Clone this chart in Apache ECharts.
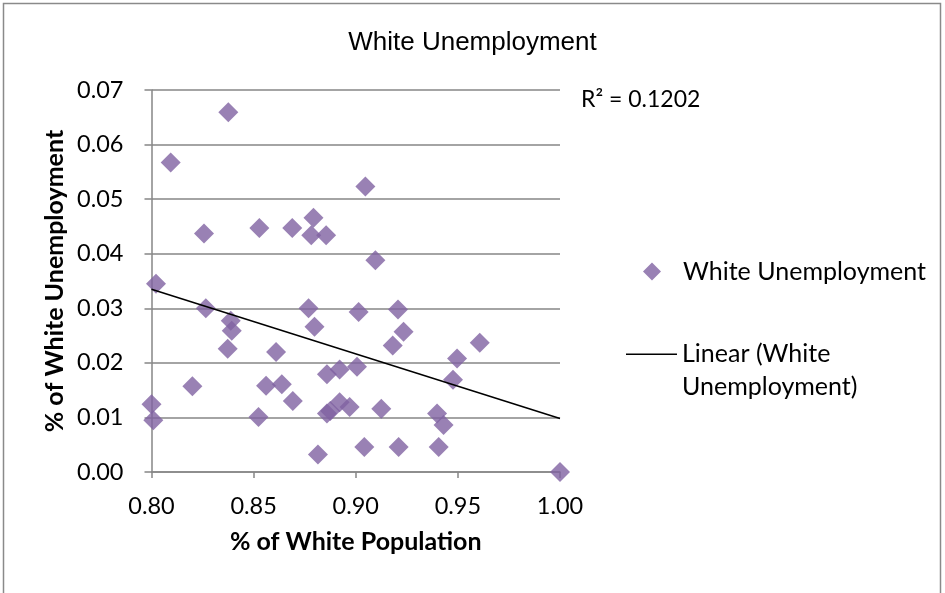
<!DOCTYPE html>
<html>
<head>
<meta charset="utf-8">
<script src="https://cdn.jsdelivr.net/npm/echarts@6/dist/echarts.min.js"></script>
<style>
  html, body { margin: 0; padding: 0; background: #fff; }
  #chart { width: 945px; height: 593px; }
</style>
</head>
<body>
<div id="chart"></div>
<script>
// Share of white population (x) vs white unemployment rate (y), one point per area
const whitePopulation = [
  0.8376, 0.8094, 0.8257, 0.8528, 0.8689, 0.8793, 0.8782, 0.8855, 0.9047, 0.9096,
  0.8022, 0.8266, 0.8388, 0.8393, 0.8373, 0.8610, 0.8769, 0.8798, 0.9014, 0.8200,
  0.8000, 0.8009, 0.8524, 0.8561, 0.8638, 0.8692, 0.8815, 0.8859, 0.8921, 0.9006,
  0.8859, 0.8875, 0.8921, 0.8970, 0.9042, 0.9207, 0.9234, 0.9181, 0.9607, 0.9496,
  0.9476, 0.9125, 0.9398, 0.9430, 0.9210, 0.9406, 1.0000
];
const whiteUnemployment = [
  0.0659, 0.0567, 0.0437, 0.0447, 0.0447, 0.0466, 0.0434, 0.0434, 0.0523, 0.0388,
  0.0345, 0.0300, 0.0277, 0.0259, 0.0226, 0.0220, 0.0300, 0.0266, 0.0293, 0.0157,
  0.0124, 0.0095, 0.0101, 0.0158, 0.0161, 0.0130, 0.0032, 0.0179, 0.0188, 0.0193,
  0.0107, 0.0112, 0.0128, 0.0119, 0.0046, 0.0298, 0.0257, 0.0232, 0.0237, 0.0208,
  0.0169, 0.0116, 0.0107, 0.0086, 0.0046, 0.0046, 0.0000
];
// Linear trendline end points
const trendX = [0.80, 1.00];
const trendY = [0.0335, 0.0098];
const rSquaredText = 'R² = 0.1202';

const seriesName = 'White Unemployment';
const trendName = 'Linear (White Unemployment)';

const points = whitePopulation.map((x, i) => [x, whiteUnemployment[i]]);
const trend = trendX.map((x, i) => [x, trendY[i]]);

const labelFont = 'Lato, "Open Sans", sans-serif';
const gridColor = '#868686';
const markerColor = '#7f62a1';

// Legend icons: a diamond followed by blank space, and a line sitting on the
// first text row (tiny invisible corner points set the icon bounds)
const diamondIcon = 'path://M9,0 L18,9 L9,18 L0,9 Z M35,9 L35.01,9 L35.01,9.01 Z';
const lineIcon = 'path://M0,0 L51,0 L51,1.5 L0,1.5 Z M0,33 L0.01,33 L0.01,33.01 Z';

const chart = echarts.init(document.getElementById('chart'), null, { renderer: 'canvas' });
chart.setOption({
  animation: false,
  backgroundColor: '#ffffff',
  title: {
    text: 'White Unemployment',
    left: 'center',
    top: 25,
    textStyle: { fontFamily: '"Liberation Sans", Arial, sans-serif', fontWeight: 'normal', fontSize: 26, color: '#000' }
  },
  legend: [
    {
      data: [{ name: seriesName, icon: diamondIcon }],
      left: 643,
      top: 259,
      padding: 0,
      itemWidth: 35,
      itemHeight: 18,
      itemStyle: { color: markerColor },
      textStyle: { fontFamily: labelFont, fontSize: 25, color: '#000' }
    },
    {
      data: [{ name: trendName, icon: lineIcon }],
      left: 626,
      top: 337,
      padding: 0,
      itemWidth: 51,
      itemHeight: 33,
      formatter: () => 'Linear (White\nUnemployment)',
      textStyle: { fontFamily: labelFont, fontSize: 25, color: '#000', lineHeight: 33 }
    }
  ],
  grid: { left: 151.5, right: 385, top: 90, bottom: 121, containLabel: false },
  xAxis: {
    type: 'value',
    min: 0.8, max: 1.0, interval: 0.05,
    name: '% of White Population',
    nameLocation: 'middle',
    nameGap: 57,
    nameTextStyle: { fontFamily: labelFont, fontWeight: 'bold', fontSize: 25, color: '#000' },
    axisLine: { lineStyle: { color: gridColor, width: 1.5 } },
    axisTick: { show: true, length: 6, lineStyle: { color: gridColor, width: 1.5 } },
    axisLabel: { fontFamily: labelFont, fontSize: 23.5, color: '#000', margin: 22, formatter: v => v.toFixed(2) },
    splitLine: { show: false }
  },
  yAxis: {
    type: 'value',
    min: 0, max: 0.07, interval: 0.01,
    name: '% of White Unemployment',
    nameLocation: 'middle',
    nameGap: 84,
    nameRotate: 90,
    nameTextStyle: { fontFamily: labelFont, fontWeight: 'bold', fontSize: 25, color: '#000' },
    axisLine: { show: true, lineStyle: { color: gridColor, width: 1.5 } },
    axisTick: { show: true, length: 7, lineStyle: { color: gridColor, width: 1.5 } },
    axisLabel: { fontFamily: labelFont, fontSize: 23.5, color: '#000', margin: 28, formatter: v => v.toFixed(2) },
    splitLine: { show: true, lineStyle: { color: gridColor, width: 1.5 } }
  },
  series: [
    {
      name: seriesName,
      type: 'scatter',
      symbol: 'diamond',
      symbolSize: 20,
      itemStyle: { color: markerColor },
      data: points,
      z: 3
    },
    {
      name: trendName,
      type: 'line',
      data: trend,
      symbol: 'none',
      lineStyle: { color: '#000', width: 1.5 },
      itemStyle: { color: '#000' },
      z: 4
    }
  ],
  graphic: [
    {
      type: 'rect',
      shape: { x: 3.5, y: 3.5, width: 937, height: 620 },
      style: { fill: 'none', stroke: '#8a8a8a', lineWidth: 1.5 },
      silent: true
    },
    {
      type: 'text',
      left: 581,
      top: 88,
      style: { text: rSquaredText, fontFamily: labelFont, fontSize: 23, fill: '#000' }
    }
  ]
});
</script>
</body>
</html>
